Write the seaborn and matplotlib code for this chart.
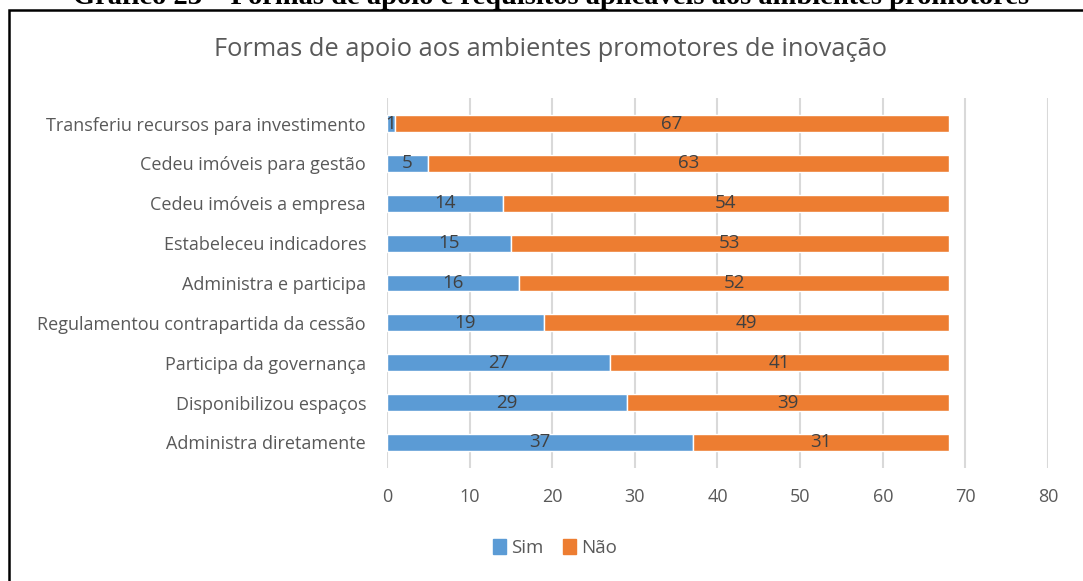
import matplotlib
matplotlib.use("Agg")
import pandas as pd
import seaborn as sns
from matplotlib import pyplot as plt
from matplotlib.patches import Rectangle, Patch

categorias = [
    "Transferiu recursos para investimento",
    "Cedeu imóveis para gestão",
    "Cedeu imóveis a empresa",
    "Estabeleceu indicadores",
    "Administra e participa",
    "Regulamentou contrapartida da cessão",
    "Participa da governança",
    "Disponibilizou espaços",
    "Administra diretamente",
]
sim = [1, 5, 14, 15, 16, 19, 27, 29, 37]
nao = [67, 63, 54, 53, 52, 49, 41, 39, 31]
ticks = [0, 10, 20, 30, 40, 50, 60, 70, 80]

AZUL = "#5B9BD5"
LARANJA = "#ED7D31"
CINZA = "#595959"

sns.set_theme(style="white")
plt.rcParams["font.family"] = ["Open Sans", "DejaVu Sans"]

df = pd.DataFrame({"categoria": categorias, "Sim": sim, "Não": nao})

fig = plt.figure(figsize=(10.83, 5.81), dpi=100)
ax = fig.add_axes([0.3573, 0.1953, 0.6104, 0.6352])

sns.barplot(data=df, x="Sim", y="categoria", color=AZUL, saturation=1,
            width=0.42, ax=ax, orient="h")
ax.barh(df["categoria"], df["Não"], left=df["Sim"], color=LARANJA, height=0.42)

for cont in ax.containers:
    ax.bar_label(cont, label_type="center", fontsize=13.5, color="#404040")

ax.set_xlim(0, 80)
ax.set_xticks(ticks)
ax.xaxis.grid(True, color="#D9D9D9", linewidth=1.5)
ax.set_axisbelow(True)
for s in ax.spines.values():
    s.set_visible(False)
ax.set_xlabel("")
ax.set_ylabel("")
ax.tick_params(axis="x", labelsize=13, colors=CINZA, length=0, pad=15)
ax.tick_params(axis="y", labelsize=13, colors=CINZA, length=0, pad=15)

fig.text(0.508, 0.915, "Formas de apoio aos ambientes promotores de inovação",
         ha="center", va="center", fontsize=18.3, color=CINZA)

fig.text(0.509, 1 - 4 / 581, "Gráfico 23 – Formas de apoio e requisitos aplicáveis aos ambientes promotores",
         ha="center", va="baseline", fontsize=20.5, fontweight="bold",
         family="Liberation Serif", color="black")

fig.add_artist(Rectangle((9 / 1083, -0.1), 1.5, 1.1 - 10 / 581,
                         transform=fig.transFigure, fill=False,
                         edgecolor="black", linewidth=1.8))

handles = [Patch(color=AZUL, label="Sim"), Patch(color=LARANJA, label="Não")]
fig.legend(handles=handles, loc="center", bbox_to_anchor=(555 / 1083, 1 - 548 / 581),
           ncol=2, frameon=False, fontsize=13.5, labelcolor=CINZA,
           handlelength=0.7, handleheight=0.9, handletextpad=0.3, columnspacing=1.0)

fig.savefig("out.png", dpi=100)
